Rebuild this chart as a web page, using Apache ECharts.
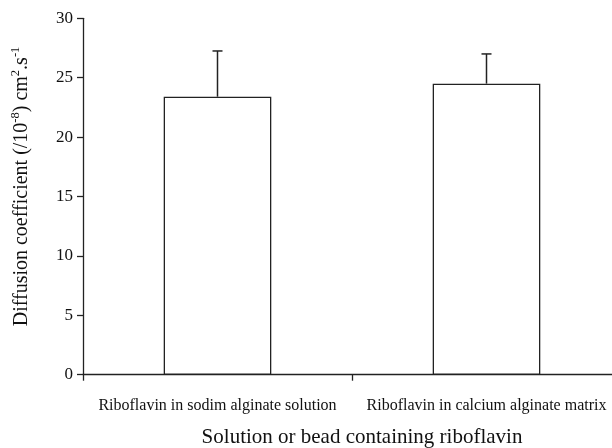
<!DOCTYPE html>
<html>
<head>
<meta charset="utf-8">
<script src="https://cdn.jsdelivr.net/npm/echarts@6/dist/echarts.min.js"></script>
<style>
html,body{margin:0;padding:0;background:#fff;}
#c{width:612px;height:448px;}
</style>
</head>
<body>
<div id="c"></div>
<script>
const categories = ['Riboflavin in sodim alginate solution', 'Riboflavin in calcium alginate matrix'];
const values = [23.4, 24.5];
const errors = [3.85, 2.5];
const yTicks = [0, 5, 10, 15, 20, 25, 30];

const FONT = '"Liberation Serif", "Times New Roman", serif';
const chart = echarts.init(document.getElementById('c'), null, {renderer: 'canvas'});

const errData = values.map((v, i) => [i, v, v + errors[i]]);

chart.setOption({
  animation: false,
  backgroundColor: '#fff',
  grid: {left: 83, top: 18.3, width: 538, height: 356.4, containLabel: false, outerBoundsMode: 'none'},
  xAxis: {
    type: 'category',
    data: categories,
    boundaryGap: true,
    axisLine: {lineStyle: {color: '#222', width: 1.3}},
    axisTick: {show: true, length: 6, interval: 0, lineStyle: {color: '#222', width: 1.3}},
    axisLabel: {fontFamily: FONT, fontSize: 16, color: '#111', margin: 23, interval: 0, hideOverlap: false},
    name: 'Solution or bead containing riboflavin',
    nameLocation: 'middle',
    nameGap: 52,
    nameTextStyle: {fontFamily: FONT, fontSize: 21, color: '#111', padding: [0, 0, 0, 20]},
    splitLine: {show: false}
  },
  yAxis: {
    type: 'value',
    min: yTicks[0],
    max: yTicks[yTicks.length - 1],
    interval: 5,
    axisLine: {show: true, lineStyle: {color: '#222', width: 1.3}},
    axisTick: {show: true, length: 6, lineStyle: {color: '#222', width: 1.3}},
    axisLabel: {fontFamily: FONT, fontSize: 17, color: '#111', margin: 10},
    splitLine: {show: false},
    name: '{n|Diffusion coefficient (/10}{s|-8}{n|) cm}{s|2}{n|.s}{s|-1}',
    nameLocation: 'middle',
    nameGap: 49,
    nameRotate: 90,
    nameTextStyle: {
      fontFamily: FONT, fontSize: 20, color: '#111',
      padding: [0, 0, 0, 20],
      rich: {
        n: {fontFamily: FONT, fontSize: 20, color: '#111', lineHeight: 24},
        s: {fontFamily: FONT, fontSize: 12.5, color: '#111', padding: [0, 0, 13, 0], lineHeight: 24}
      }
    }
  },
  series: [
    {
      type: 'bar',
      data: values,
      barWidth: '40%',
      itemStyle: {color: '#fff', borderColor: '#222', borderWidth: 1.3},
      z: 2
    },
    {
      type: 'custom',
      data: errData,
      z: 3,
      renderItem: function (params, api) {
        const x = api.value(0);
        const base = api.coord([x, api.value(1)]);
        const top = api.coord([x, api.value(2)]);
        const hw = 5;
        const st = {stroke: '#222', lineWidth: 1.5};
        return {
          type: 'group',
          children: [
            {type: 'line', shape: {x1: base[0], y1: base[1], x2: top[0], y2: top[1]}, style: st},
            {type: 'line', shape: {x1: top[0] - hw, y1: top[1], x2: top[0] + hw, y2: top[1]}, style: st}
          ]
        };
      }
    }
  ]
});
</script>
</body>
</html>
